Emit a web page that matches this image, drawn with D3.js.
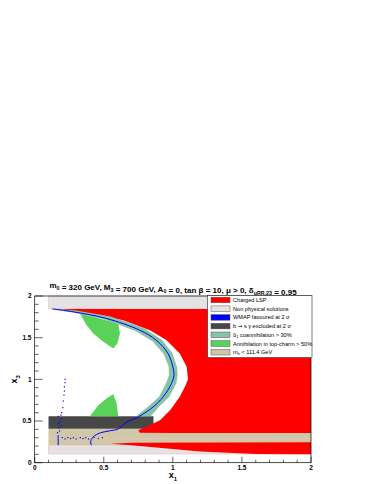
<!DOCTYPE html>
<html>
<head>
<meta charset="utf-8">
<script src="https://cdn.jsdelivr.net/npm/d3@7"></script>
<style>
  body { margin: 0; background: #fff; }
  text { font-family: "Liberation Sans", Arial, sans-serif; }
</style>
</head>
<body>
<div id="chart"></div>
<script>
// regions in the (x1, x3) plane
var chargedLSP = [
  [0.18, 1.845], [0.40, 1.79], [0.64, 1.71], [0.834, 1.59], [0.955, 1.47],
  [1.05, 1.31], [1.10, 1.15], [1.11, 1.0], [1.09, 0.92], [1.05, 0.79],
  [0.98, 0.63], [0.907, 0.51], [0.81, 0.43], [0.75, 0.39], [0.76, 0.36],
  [0.98, 0.355], [2, 0.355], [2, 1.845]
];
var chargedLSPLow = [
  [0.55, 0.228], [0.7, 0.24], [2, 0.245], [2, 0.1], [1.6, 0.105],
  [1.2, 0.135], [0.9, 0.18], [0.7, 0.21]
];
var nonPhysTop = [[0.1, 1.845], [2, 1.845], [2, 2], [0.1, 2]];
var nonPhysBottom = [[0.1, 0.104], [2, 0.104], [2, 0.21], [0.1, 0.21]];
var bsgExcluded = [[0.1, 0.408], [0.86, 0.408], [0.86, 0.556], [0.1, 0.556]];
var mhExcluded = [[0.1, 0.21], [2, 0.21], [2, 0.408], [0.1, 0.408]];
var mhLine = [[0.1, 0.288], [2, 0.288]];
var coannOuter = [
  [0.12, 1.85], [0.3, 1.825], [0.55, 1.755], [0.79, 1.615], [0.92, 1.475],
  [0.995, 1.32], [1.03, 1.15], [1.035, 1.05], [1.025, 0.95], [0.975, 0.79],
  [0.9, 0.67], [0.84, 0.556]
];
var coannInner = [
  [0.12, 1.84], [0.3, 1.795], [0.5, 1.72], [0.73, 1.58], [0.855, 1.455],
  [0.935, 1.30], [0.97, 1.15], [0.972, 1.05], [0.95, 0.95], [0.9, 0.79],
  [0.82, 0.67], [0.735, 0.556]
];
var topCharmUpper = [
  [0.328, 1.79], [0.45, 1.74], [0.605, 1.67], [0.617, 1.55], [0.598, 1.43],
  [0.569, 1.37], [0.496, 1.45], [0.424, 1.55], [0.376, 1.65], [0.34, 1.75]
];
var topCharmLower = [
  [0.40, 0.556], [0.46, 0.69], [0.52, 0.77], [0.569, 0.825], [0.593, 0.71], [0.605, 0.556]
];
var wmapLine = [
  [0.13, 1.845], [0.28, 1.81], [0.52, 1.73], [0.76, 1.59], [0.88, 1.47],
  [0.965, 1.31], [1.0, 1.15], [1.008, 1.05], [0.99, 0.95], [0.93, 0.79],
  [0.858, 0.67], [0.75, 0.55], [0.66, 0.48], [0.625, 0.43], [0.6, 0.40],
  [0.55, 0.385], [0.47, 0.355], [0.43, 0.32], [0.41, 0.28], [0.405, 0.25], [0.41, 0.21]
];
var wmapStub = [[0.17, 0.21], [0.17, 0.33]];
var wmapDots = [
  [0.22, 1.0], [0.22, 0.96], [0.215, 0.91], [0.215, 0.86], [0.212, 0.81],
  [0.207, 0.74], [0.203, 0.66], [0.195, 0.6], [0.19, 0.57], [0.17, 0.555],
  [0.195, 0.53], [0.185, 0.49], [0.17, 0.47], [0.19, 0.445], [0.175, 0.42],
  [0.18, 0.38], [0.165, 0.36], [0.2, 0.3], [0.22, 0.285], [0.24, 0.3],
  [0.26, 0.29], [0.28, 0.3], [0.3, 0.285], [0.33, 0.3], [0.35, 0.29],
  [0.37, 0.3], [0.39, 0.285], [0.43, 0.3], [0.46, 0.29], [0.49, 0.3]
];

var xTicks = [0, 0.5, 1, 1.5, 2];
var yTicks = [0, 0.5, 1, 1.5, 2];
var legendLabels = [
  "Charged LSP", "Non physical solutions", "WMAP favoured at 2 σ",
  "b → s γ excluded at 2 σ", "ũ coannihilation > 30%",
  "Annihilation in top-charm > 50%", "m < 111.4 GeV"
];
var legendColors = ["#ff0000", "#e3e3e3", "#0000ff", "#474747", "#86c3a7", "#5ad25a", "#d0c7a6"];

var w = 374, h = 484;
var svg = d3.select("#chart").append("svg").attr("width", w).attr("height", h);

var x = d3.scaleLinear().domain([0, 2]).range([34.7, 311]);
var y = d3.scaleLinear().domain([0, 2]).range([462.7, 296]);

var line = d3.line().x(function(d) { return x(d[0]); }).y(function(d) { return y(d[1]); });
function poly(pts) { return line(pts) + "Z"; }

var plot = svg.append("g");

plot.append("path").attr("d", poly(mhExcluded)).attr("fill", legendColors[6]);
plot.append("path").attr("d", poly(nonPhysBottom)).attr("fill", legendColors[1])
  .attr("stroke", "#f2b8b8").attr("stroke-width", 0.6);
plot.append("path").attr("d", poly(nonPhysTop)).attr("fill", legendColors[1])
  .attr("stroke", "#f2b8b8").attr("stroke-width", 0.6);
plot.append("path").attr("d", poly(bsgExcluded)).attr("fill", legendColors[3]);
plot.append("path").attr("d", poly(chargedLSP)).attr("fill", legendColors[0]);
plot.append("path").attr("d", poly(chargedLSPLow)).attr("fill", legendColors[0]);
plot.append("path").attr("d", line(mhLine)).attr("stroke", "#f3c4c4").attr("stroke-width", 0.8);

plot.append("path").attr("d", poly(topCharmUpper)).attr("fill", legendColors[5]);
plot.append("path").attr("d", poly(topCharmLower)).attr("fill", legendColors[5]);
plot.append("path").attr("d", poly(coannOuter.concat(coannInner.slice().reverse())))
  .attr("fill", legendColors[4]);

plot.append("path").attr("d", d3.line().curve(d3.curveCatmullRom)
    .x(function(d) { return x(d[0]); }).y(function(d) { return y(d[1]); })(wmapLine))
  .attr("fill", "none").attr("stroke", "#0000ff").attr("stroke-width", 1);
plot.append("path").attr("d", line(wmapStub)).attr("stroke", "#0000ff").attr("stroke-width", 1);
plot.selectAll("rect.dot").data(wmapDots).enter().append("rect")
  .attr("class", "dot")
  .attr("x", function(d) { return x(d[0]) - 0.6; })
  .attr("y", function(d) { return y(d[1]) - 0.6; })
  .attr("width", 1.2).attr("height", 1.2)
  .attr("fill", "#0000ff");

// frame
svg.append("rect").attr("x", x(0)).attr("y", y(2))
  .attr("width", x(2) - x(0)).attr("height", y(0) - y(2))
  .attr("fill", "none").attr("stroke", "#000").attr("stroke-width", 0.7);

// ticks drawn inside the frame, ROOT style
var minor = d3.range(0, 2.0001, 0.1);
svg.selectAll("line.xt").data(minor).enter().append("line")
  .attr("x1", function(d) { return x(d); }).attr("x2", function(d) { return x(d); })
  .attr("y1", y(0)).attr("y2", function(d, i) { return y(0) - (i % 5 === 0 ? 6 : 3); })
  .attr("stroke", "#000").attr("stroke-width", 0.6);
svg.selectAll("line.yt").data(minor).enter().append("line")
  .attr("y1", function(d) { return y(d); }).attr("y2", function(d) { return y(d); })
  .attr("x1", x(0)).attr("x2", function(d, i) { return x(0) + (i % 5 === 0 ? 8 : 4); })
  .attr("stroke", "#000").attr("stroke-width", 0.6);

svg.selectAll("text.xl").data(xTicks).enter().append("text")
  .attr("x", function(d) { return x(d); }).attr("y", 469.5)
  .attr("text-anchor", "middle").attr("font-size", "6.5px").attr("font-weight", "bold")
  .text(function(d) { return d; });
svg.selectAll("text.yl").data(yTicks).enter().append("text")
  .attr("x", 31.5).attr("y", function(d) { return y(d) + 2.3; })
  .attr("text-anchor", "end").attr("font-size", "6.5px").attr("font-weight", "bold")
  .text(function(d) { return d; });

// axis titles
var xt = svg.append("text").attr("x", x(1)).attr("y", 478)
  .attr("text-anchor", "middle").attr("font-size", "9px").attr("font-weight", "bold");
xt.append("tspan").text("x");
xt.append("tspan").attr("font-size", "6px").attr("dy", 2.5).text("1");

var yt = svg.append("text").attr("transform", "translate(17," + y(1) + ") rotate(-90)")
  .attr("text-anchor", "middle").attr("font-size", "9px").attr("font-weight", "bold");
yt.append("tspan").text("x");
yt.append("tspan").attr("font-size", "6px").attr("dy", 2.5).text("3");

// title
var t = svg.append("text").attr("x", 173).attr("y", 288)
  .attr("text-anchor", "middle").attr("font-size", "8px").attr("font-weight", "bold");
function part(s, sub) {
  t.append("tspan").text(s);
  if (sub) {
    t.append("tspan").attr("font-size", "5.3px").attr("dy", 1.8).text(sub);
    t.append("tspan").attr("dy", -1.8).text("");
  }
}
part("m", "0"); part(" = 320 GeV, M", "3"); part(" = 700 GeV, A", "0");
part(" = 0, tan β = 10, μ > 0, δ", "uRR,23"); part(" = 0.95");

// legend
var lg = svg.append("g");
lg.append("rect").attr("x", 207.5).attr("y", 295.7).attr("width", 104.5).attr("height", 62)
  .attr("fill", "#fff").attr("stroke", "#000").attr("stroke-width", 0.5);
var rows = lg.selectAll("g.row").data(legendLabels).enter().append("g")
  .attr("transform", function(d, i) { return "translate(0," + (300 + i * 8.7) + ")"; });
rows.append("rect").attr("x", 211).attr("y", -2.8).attr("width", 19).attr("height", 5.6)
  .attr("fill", function(d, i) { return legendColors[i]; })
  .attr("stroke", "#555").attr("stroke-width", 0.5);
rows.append("text").attr("x", 233).attr("y", 2).attr("font-size", "5.6px")
  .each(function(d, i) {
    var el = d3.select(this);
    if (i === 3) {
      el.append("tspan").text("b ");
      el.append("tspan").style("font-family", "DejaVu Sans").text("→");
      el.append("tspan").text(" s γ excluded at 2 σ");
    } else if (i === 4) {
      el.append("tspan").text("ũ");
      el.append("tspan").attr("font-size", "4px").attr("dy", 1.2).text("1");
      el.append("tspan").attr("dy", -1.2).text(" coannihilation > 30%");
    } else if (i === 6) {
      el.append("tspan").text("m");
      el.append("tspan").attr("font-size", "4px").attr("dy", 1.2).text("h");
      el.append("tspan").attr("dy", -1.2).text(" < 111.4 GeV");
    } else {
      el.text(d);
    }
  });
</script>
</body>
</html>
